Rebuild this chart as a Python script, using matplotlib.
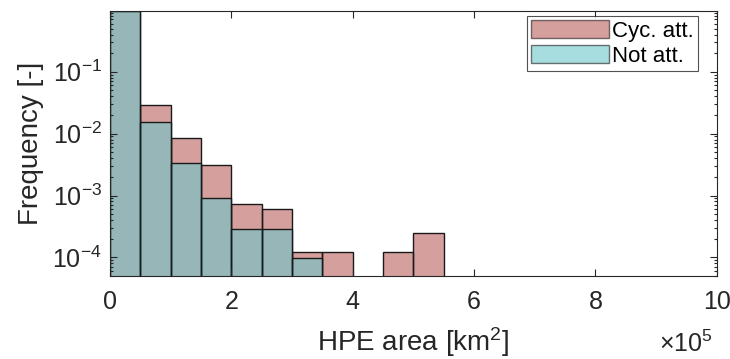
import numpy as np
import matplotlib.pyplot as plt

plt.rcParams['font.family'] = ['Liberation Sans', 'DejaVu Sans']
plt.rcParams['mathtext.default'] = 'regular'

# histogram bins in units of 1e5 km^2
bin_edges = np.arange(0, 5.5, 0.5)
cyc_att = [0.955, 0.0285, 0.0084, 0.0031, 0.00073, 0.00061, 0.000123, 0.000123, 0.0, 0.000123, 0.000244]
not_att = [0.975, 0.0156, 0.0033, 0.00092, 0.00029, 0.00029, 0.000098, 0.0, 0.0, 0.0, 0.0]

cyc_color = '#b8605c'
not_color = '#6ec7cb'
ink = '#262626'

fig = plt.figure(figsize=(7.3, 3.59), dpi=100)
ax = fig.add_axes([0.1507, 0.2312, 0.8313, 0.739])

floor = 1e-6
for vals, col, lab in [(cyc_att, cyc_color, 'Cyc. att.'), (not_att, not_color, 'Not att.')]:
    vals = np.asarray(vals)
    m = vals > 0
    ax.bar(bin_edges[m], vals[m] - floor, width=0.5, bottom=floor, align='edge',
           color=col, alpha=0.6, edgecolor='none', label=lab)
    ax.bar(bin_edges[m], vals[m] - floor, width=0.5, bottom=floor, align='edge',
           facecolor='none', edgecolor='#1a1a1a', linewidth=1.0)

ax.set_yscale('log')
ax.set_ylim(5e-5, 0.97)
ax.set_xlim(0, 10)
ax.set_xticks([0, 2, 4, 6, 8, 10])
ax.set_xticklabels(['0', '2', '4', '6', '8', '10'])

ax.tick_params(which='both', direction='in', top=True, right=True, colors=ink,
               labelsize=18, width=0.8)
ax.tick_params(which='major', length=5)
ax.tick_params(axis='x', which='major', pad=10)
ax.tick_params(axis='y', which='major', pad=6)
ax.tick_params(which='minor', length=2.5)
for s in ax.spines.values():
    s.set_color(ink)
    s.set_linewidth(0.8)

ax.set_xlabel('HPE area [km$^2$]', fontsize=20, color=ink, labelpad=8)
ax.set_ylabel('Frequency [-]', fontsize=20, color=ink, labelpad=6)
fig.text(0.976, 0.02, '×10$^5$', ha='right', va='baseline',
         fontsize=18, color=ink)

leg = ax.legend(loc='upper right', bbox_to_anchor=(0.9687, 0.981), fontsize=16,
                frameon=True, fancybox=False, edgecolor=ink,
                handlelength=3.5, handleheight=0.9, handletextpad=0.15,
                borderpad=0.18, labelspacing=0.15, borderaxespad=0)
leg.get_frame().set_linewidth(0.8)
for h in leg.legend_handles:
    h.set_edgecolor('#1a1a1a')
    h.set_linewidth(1.0)

fig.savefig('out.png', dpi=100)
